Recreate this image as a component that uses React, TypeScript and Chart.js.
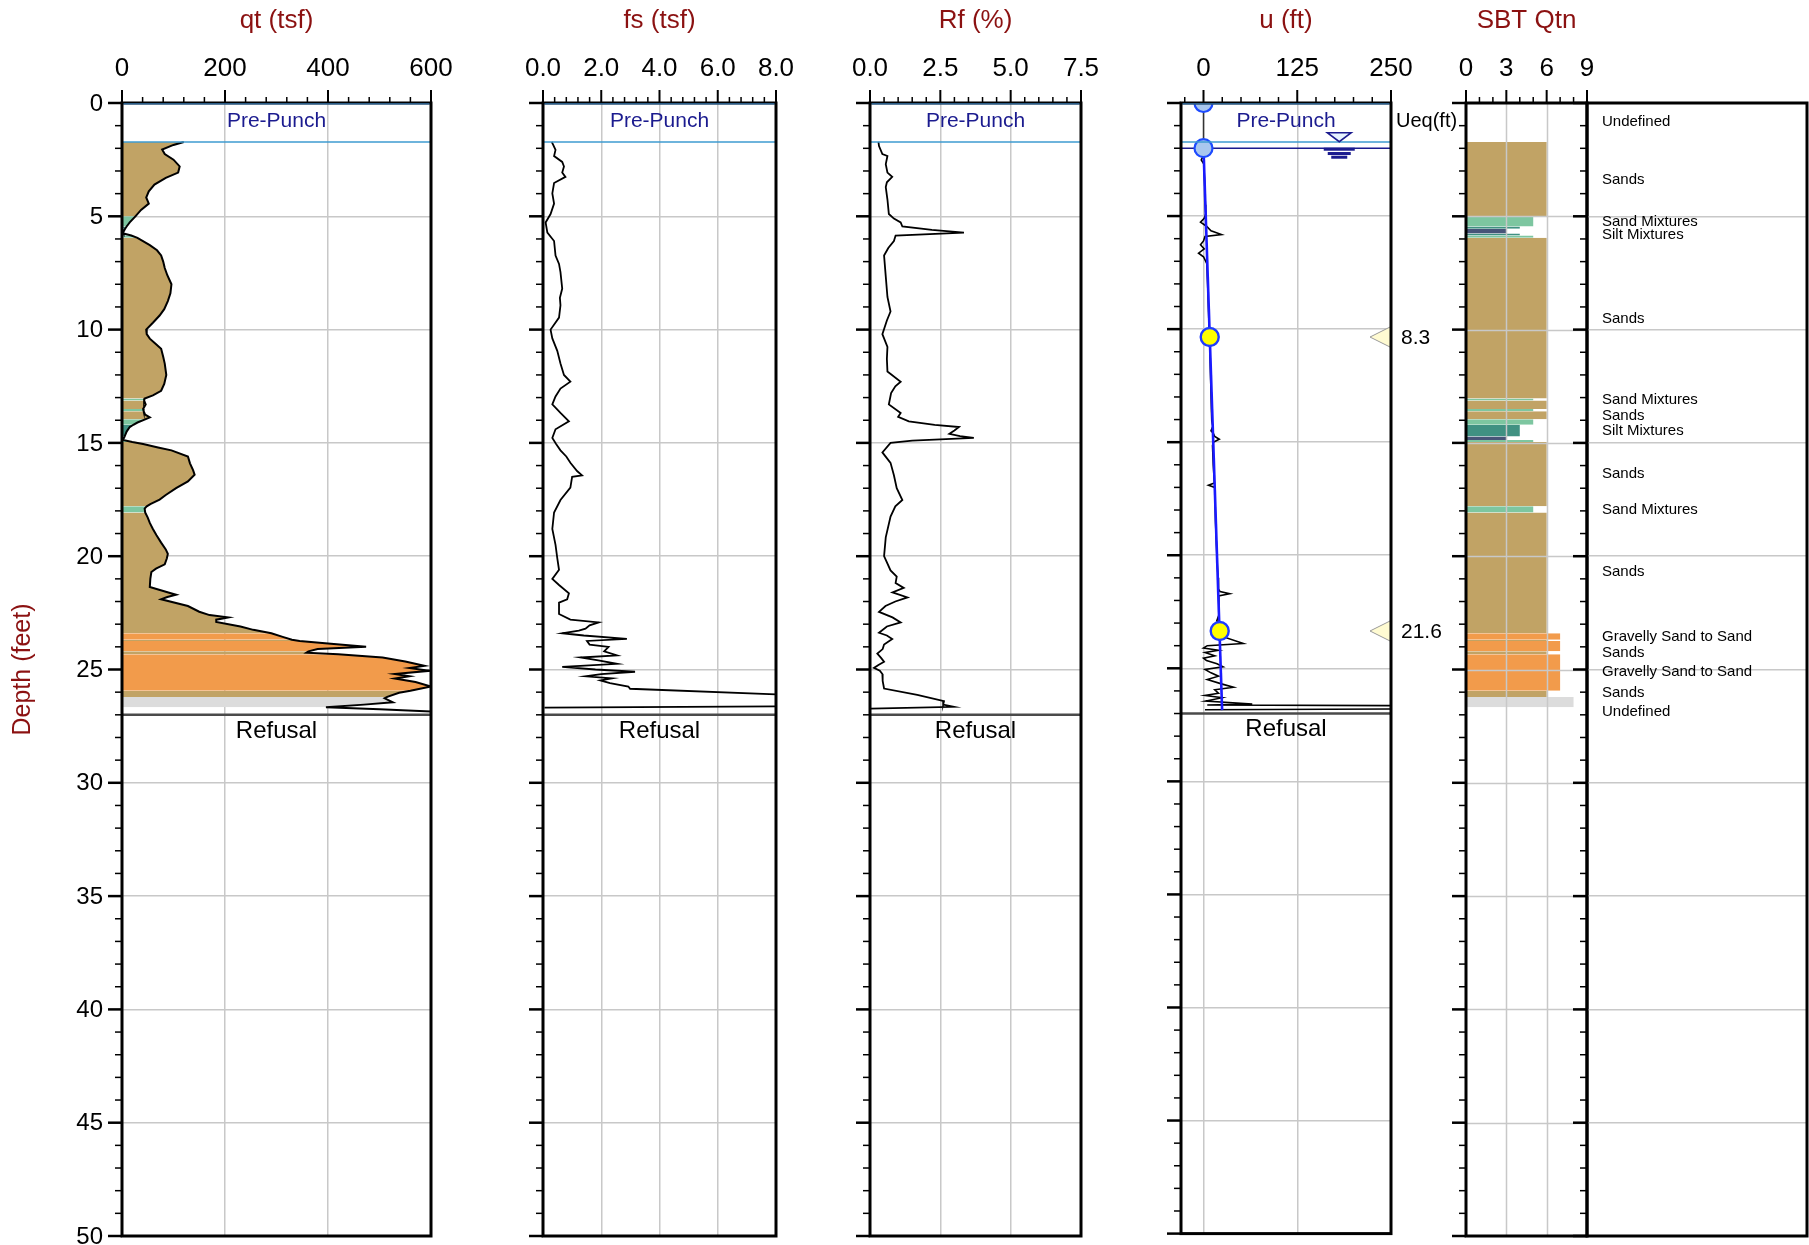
import React, { useEffect, useRef } from "react";
import { Chart, registerables } from "chart.js";

Chart.register(...registerables);

// ======================= DATA =======================
const depthTicks = [0, 5, 10, 15, 20, 25, 30, 35, 40, 45, 50];
const depthTickLabels = ["0", "5", "10", "15", "20", "25", "30", "35", "40", "45", "50"];
const depthGridValues = [5, 10, 15, 20, 25, 30, 35, 40, 45];

const panelTitles = ["qt (tsf)", "fs (tsf)", "Rf (%)", "u (ft)", "SBT Qtn"];

const qtAxisTicks = [0, 200, 400, 600];
const qtAxisLabels = ["0", "200", "400", "600"];
const fsAxisTicks = [0, 2, 4, 6, 8];
const fsAxisLabels = ["0.0", "2.0", "4.0", "6.0", "8.0"];
const rfAxisTicks = [0, 2.5, 5, 7.5];
const rfAxisLabels = ["0.0", "2.5", "5.0", "7.5"];
const uAxisTicks = [0, 125, 250];
const uAxisLabels = ["0", "125", "250"];
const sbtAxisTicks = [0, 3, 6, 9];
const sbtAxisLabels = ["0", "3", "6", "9"];

const prePunchDepth = 1.72;
const refusalDepth = 27.0;
const waterTableDepth = 2.0;
const waterSymbolU = 181;

// cone resistance qt (tsf)
const qtDepth = [1.72, 1.85, 2.05, 2.25, 2.5, 2.8, 3.07, 3.3, 3.6, 3.9,
  4.17, 4.44, 4.72, 5.0, 5.27, 5.45, 5.55, 5.72, 5.76, 5.85,
  5.95, 6.27, 6.5, 6.73, 7.0, 7.28, 7.6, 8.0, 8.4, 8.74,
  9.1, 9.38, 9.7, 10.0, 10.2, 10.4, 10.6, 10.85, 11.2, 11.5,
  12.0, 12.4, 12.7, 12.9, 13.04, 13.13, 13.3, 13.5, 13.6, 13.75,
  13.87, 13.96, 14.1, 14.2, 14.3, 14.5, 14.72, 14.87, 14.96, 15.05,
  15.2, 15.33, 15.6, 15.9, 16.2, 16.4, 16.7, 17.0, 17.3, 17.5,
  17.7, 17.8, 17.9, 18.07, 18.3, 18.53, 18.8, 19.08, 19.4, 19.7,
  19.9, 20.1, 20.36, 20.55, 20.7, 21.0, 21.36, 21.6, 21.7, 21.8,
  21.9, 22.2, 22.45, 22.6, 22.7, 22.8, 22.9, 23.1, 23.25, 23.4,
  23.56, 23.69, 23.74, 23.85, 24.0, 24.1, 24.2, 24.26, 24.33, 24.47,
  24.65, 24.84, 24.93, 25.06, 25.2, 25.3, 25.4, 25.55, 25.75, 25.94,
  26.03, 26.21, 26.27, 26.45, 26.55, 26.67, 26.75, 26.85];
const qtValue = [120, 100, 78, 83, 100, 112, 109, 85, 63, 52,
  47, 52, 37, 26, 15, 9, 6, 2, 3, 18,
  30, 54, 68, 76, 80, 83, 88, 96, 94, 89,
  82, 73, 60, 47, 48, 54, 64, 76, 80, 83,
  86, 82, 76, 60, 44, 43, 46, 41, 42, 45,
  54, 45, 30, 22, 15, 9, 5, 2, 20, 41,
  70, 96, 128, 132, 138, 141, 128, 105, 85, 73,
  55, 48, 44, 45, 50, 54, 60, 67, 76, 85,
  89, 87, 83, 66, 57, 55, 54, 90, 105, 88,
  76, 128, 150, 170, 206, 183, 183, 230, 255, 290,
  312, 330, 345, 400, 474, 380, 362, 358, 420, 506,
  550, 587, 558, 597, 530, 558, 530, 570, 600, 560,
  538, 515, 510, 526, 470, 396, 500, 600];

// sleeve friction fs (tsf)
const fsDepth = [1.72, 1.85, 2.07, 2.34, 2.6, 2.8, 3.07, 3.26, 3.53, 3.99,
  4.44, 4.9, 5.27, 5.72, 6.09, 6.73, 7.1, 7.46, 8.19, 8.6,
  8.93, 9.47, 10.0, 10.39, 10.94, 11.5, 12.0, 12.3, 12.6, 12.95,
  13.3, 13.68, 14.05, 14.4, 14.78, 15.05, 15.33, 15.6, 15.88, 16.24,
  16.43, 16.5, 16.97, 17.52, 18.07, 18.8, 19.5, 20.08, 20.6, 21.0,
  21.27, 21.64, 21.9, 22.05, 22.2, 22.55, 22.8, 22.92, 23.05, 23.2,
  23.28, 23.4, 23.5, 23.65, 23.74, 23.9, 24.0, 24.2, 24.38, 24.47,
  24.6, 24.75, 24.88, 25.0, 25.1, 25.2, 25.3, 25.39, 25.48, 25.6,
  25.75, 25.85, 26.15, 26.62, 26.68];
const fsValue = [0.3, 0.35, 0.43, 0.38, 0.66, 0.72, 0.66, 0.77, 0.38, 0.32,
  0.38, 0.26, 0.09, 0.15, 0.38, 0.43, 0.55, 0.6, 0.66, 0.58,
  0.6, 0.55, 0.26, 0.32, 0.49, 0.6, 0.72, 0.94, 0.6, 0.43,
  0.32, 0.6, 0.89, 0.43, 0.32, 0.45, 0.6, 0.8, 0.94, 1.17,
  1.34, 1.0, 0.94, 0.6, 0.38, 0.32, 0.43, 0.49, 0.55, 0.32,
  0.55, 0.89, 0.83, 0.55, 0.55, 0.55, 0.94, 1.91, 1.6, 1.46,
  1.23, 0.66, 1.4, 2.88, 1.51, 1.6, 2.25, 2.1, 2.54, 1.29,
  1.9, 2.54, 0.66, 1.8, 3.16, 2.0, 1.46, 2.37, 1.97, 2.3,
  2.93, 2.99, 9.0, 9.0, 0.05];

// friction ratio Rf (%)
const rfDepth = [1.72, 1.9, 2.25, 2.34, 2.7, 3.07, 3.26, 3.5, 3.71, 4.26,
  4.9, 5.1, 5.27, 5.45, 5.6, 5.72, 5.85, 6.09, 6.4, 6.73,
  7.65, 8.56, 9.2, 9.6, 10.2, 10.76, 11.3, 11.85, 12.3, 12.5,
  12.8, 13.3, 13.68, 13.85, 14.05, 14.2, 14.3, 14.45, 14.6, 14.7,
  14.78, 14.9, 15.0, 15.42, 15.88, 16.43, 17.0, 17.52, 17.8, 18.25,
  19.17, 20.0, 20.63, 20.9, 21.18, 21.4, 21.6, 21.82, 22.0, 22.2,
  22.46, 22.7, 22.92, 23.1, 23.38, 23.5, 23.65, 23.9, 24.1, 24.3,
  24.5, 24.66, 24.8, 24.93, 25.05, 25.2, 25.5, 25.84, 26.12, 26.4,
  26.55, 26.65, 26.73];
const rfValue = [0.3, 0.32, 0.44, 0.62, 0.56, 0.62, 0.79, 0.6, 0.56, 0.62,
  0.67, 0.85, 1.09, 1.15, 2.2, 3.34, 0.91, 0.85, 0.65, 0.5,
  0.56, 0.62, 0.73, 0.6, 0.44, 0.62, 0.6, 0.62, 1.09, 0.9,
  0.75, 0.67, 1.09, 1.0, 1.38, 2.3, 3.16, 3.0, 2.82, 3.2,
  3.69, 1.5, 0.73, 0.44, 0.73, 0.85, 0.95, 1.15, 0.9, 0.73,
  0.56, 0.5, 0.73, 0.95, 0.91, 1.2, 0.8, 1.33, 0.9, 0.55,
  0.32, 0.8, 1.09, 0.6, 0.32, 0.6, 0.79, 0.5, 0.45, 0.26,
  0.4, 0.5, 0.3, 0.14, 0.35, 0.44, 0.45, 0.5, 1.68, 2.63,
  2.6, 2.98, 0.02];

// pore pressure u (ft)
const uDepth = [2.3, 2.45, 2.52, 2.7, 3.5, 4.5, 4.9, 5.1, 5.27, 5.45,
  5.65, 5.82, 5.9, 6.1, 6.27, 6.45, 6.64, 6.8, 7.1, 8.0,
  9.0, 10.0, 11.0, 12.2, 13.5, 14.05, 14.3, 14.5, 14.6, 14.75,
  14.87, 15.0, 15.15, 16.0, 16.8, 16.9, 17.0, 18.5, 19.9, 20.5,
  21.0, 21.5, 21.6, 21.7, 21.8, 22.3, 22.6, 22.9, 23.1, 23.2,
  23.4, 23.6, 23.9, 24.0, 24.1, 24.2, 24.3, 24.45, 24.55, 24.66,
  24.8, 24.93, 25.05, 25.2, 25.35, 25.5, 25.7, 25.84, 25.95, 26.1,
  26.2, 26.3, 26.45, 26.58, 26.62, 26.65, 26.8, 26.83];
const uValue = [0.5, -2, -3, 0.5, 1.5, 2.5, 3, 1, -4, 4,
  10, 24, 2, 0, -4, 1, -6.6, 0, 4.4, 5.5,
  6.5, 7.5, 8.5, 9.5, 10.5, 11, 12.5, 10, 13, 15,
  21, 13, 12, 13, 14.5, 6.6, 15, 16, 17.7, 18.5,
  19.5, 20, 22, 35, 20, 20.5, 21, 17.7, 23, 13,
  23, 26, 53, 5, 0, 20, 2, 15, 0, 4,
  18, 26, 2, 10, 20, 5, 25, 40, 15, 20,
  2, 25, 3, 65, 5, 260, 260, 2];

// hydrostatic line
const hydroDepth = [2.0, 26.85];
const hydroU = [0, 24.85];
// water level markers (pre-drill)
const wlDepth = [0, 2.0];
const wlU = [0, 0];
// dissipation tests / Ueq
const dissDepth = [10.35, 23.35];
const dissU = [8.3, 21.6];
const ueqLabels = ["8.3", "21.6"];

// SBT Qtn layers
const layerTop = [1.72, 5.0, 5.45, 5.55, 5.76, 5.85, 5.95, 13.04, 13.13, 13.5, 13.6, 13.96, 14.2, 14.72, 14.87, 14.96, 17.8, 18.07, 23.4, 23.69, 23.74, 24.2, 24.33, 25.94, 26.21];
const layerBottom = [5.0, 5.45, 5.55, 5.76, 5.85, 5.95, 13.04, 13.13, 13.5, 13.6, 13.96, 14.2, 14.72, 14.87, 14.96, 17.8, 18.07, 23.4, 23.69, 23.74, 24.2, 24.33, 25.94, 26.21, 26.67];
const layerZone = ["Sands", "Sand Mixtures", "Silt Mixtures", "Clays", "Silt Mixtures", "Sand Mixtures", "Sands", "Sand Mixtures", "Sands", "Sand Mixtures", "Sands", "Sand Mixtures", "Silt Mixtures", "Clays", "Sand Mixtures", "Sands", "Sand Mixtures", "Sands", "Gravelly Sand to Sand", "Sands", "Gravelly Sand to Sand", "Sands", "Gravelly Sand to Sand", "Sands", "Undefined"];
const zoneNames = ["Clays", "Silt Mixtures", "Sand Mixtures", "Sands", "Gravelly Sand to Sand", "Undefined"];
const zoneSbtIndex = [3, 4, 5, 6, 7, 8];

// SBT labels
const sbtLabelDepth = [0.8, 3.33, 5.18, 5.78, 9.46, 13.07, 13.78, 14.41, 16.33, 17.9, 20.66, 23.5, 24.2, 25.08, 26.0, 26.82];
const sbtLabelText = ["Undefined", "Sands", "Sand Mixtures", "Silt Mixtures", "Sands", "Sand Mixtures", "Sands", "Silt Mixtures", "Sands", "Sand Mixtures", "Sands", "Gravelly Sand to Sand", "Sands", "Gravelly Sand to Sand", "Sands", "Undefined"];

// ======================= STYLE / LAYOUT =======================
const PAGE_W = 1809;
const PAGE_H = 1245;
const TOP_PX = 103;
const BOTTOM_PX = 1236;
const FONT = '"Liberation Sans", Arial, Helvetica, sans-serif';
const TITLE_COLOR = "#8B1111";
const GRID = "#C8C8C8";
const NAVY = "#1B1B8F";
const zoneColors = ["#485578", "#409182", "#7DC6A0", "#C1A365", "#F29B4B", "#DCDCDC"];

const zoneColor = (z: string) => zoneColors[zoneNames.indexOf(z)];
const zoneIdx = (z: string) => zoneSbtIndex[zoneNames.indexOf(z)];
const pts = (xs: number[], ys: number[]) => ys.map((d, i) => ({ x: xs[i], y: d }));

type Panel = {
  key: string;
  left: number;
  right: number;
  min: number;
  max: number;
  title?: string;
  axisTicks: number[];
  axisLabels: string[];
  minorStep: number;
  gridX: number[];
  gridOnTop?: boolean;
  depthLabels?: boolean;
  prePunch?: boolean;
  refusal?: boolean;
  datasets: any[];
  before?: (chart: any) => void;
  extra?: (chart: any) => void;
};

const lineDs = (data: any[], color: string, width: number, order: number, extra: any = {}) => ({
  data,
  borderColor: color,
  borderWidth: width,
  pointRadius: 0,
  fill: false,
  tension: 0,
  clip: 0,
  order,
  ...extra,
});

// qt fill per layer
const qtAll = pts(qtValue, qtDepth);
const qtFillDatasets = layerTop.map((top, i) => ({
  data: qtAll.filter((p) => p.y >= top - 1e-6 && p.y <= layerBottom[i] + 1e-6),
  fill: { value: 0 },
  backgroundColor: zoneColor(layerZone[i]),
  borderWidth: 0,
  borderColor: "rgba(0,0,0,0)",
  pointRadius: 0,
  tension: 0,
  clip: 0,
  order: 10,
}));

const sbtDatasets = layerTop.map((top, i) => ({
  data: [
    { x: zoneIdx(layerZone[i]), y: top },
    { x: zoneIdx(layerZone[i]), y: layerBottom[i] },
  ],
  fill: { value: 0 },
  backgroundColor: zoneColor(layerZone[i]),
  borderWidth: 0,
  borderColor: "rgba(0,0,0,0)",
  pointRadius: 0,
  tension: 0,
  clip: 0,
  order: 10,
}));

function hline(ctx: any, x1: number, x2: number, y: number) {
  ctx.beginPath();
  ctx.moveTo(x1, y);
  ctx.lineTo(x2, y);
  ctx.stroke();
}
function vline(ctx: any, x: number, y1: number, y2: number) {
  ctx.beginPath();
  ctx.moveTo(x, y1);
  ctx.lineTo(x, y2);
  ctx.stroke();
}

const PANELS: Panel[] = [
  {
    key: "qt", left: 122, right: 431, min: 0, max: 600, title: panelTitles[0],
    axisTicks: qtAxisTicks, axisLabels: qtAxisLabels, minorStep: 40, gridX: [200, 400],
    depthLabels: true, prePunch: true, refusal: true,
    datasets: [...qtFillDatasets, lineDs(qtAll, "#000", 2, 1)],
  },
  {
    key: "fs", left: 543, right: 776, min: 0, max: 8, title: panelTitles[1],
    axisTicks: fsAxisTicks, axisLabels: fsAxisLabels, minorStep: 0.4, gridX: [2, 4, 6],
    prePunch: true, refusal: true,
    datasets: [lineDs(pts(fsValue, fsDepth), "#000", 1.8, 1)],
  },
  {
    key: "rf", left: 870, right: 1081, min: 0, max: 7.5, title: panelTitles[2],
    axisTicks: rfAxisTicks, axisLabels: rfAxisLabels, minorStep: 0.5, gridX: [2.5, 5],
    prePunch: true, refusal: true,
    datasets: [lineDs(pts(rfValue, rfDepth), "#000", 1.8, 1)],
  },
  {
    key: "u", left: 1181, right: 1391, min: -30, max: 250, title: panelTitles[3],
    axisTicks: uAxisTicks, axisLabels: uAxisLabels, minorStep: 25, gridX: [0, 125],
    prePunch: true, refusal: true,
    datasets: [
      lineDs(pts(wlU, wlDepth), "#333", 1.5, 6),
      lineDs(pts(uValue, uDepth), "#000", 1.6, 5),
      lineDs(pts(hydroU, hydroDepth), "#1A1AFF", 2.6, 4),
      {
        data: pts(wlU, wlDepth), showLine: false, pointRadius: 9, pointBackgroundColor: "#A9C7EE",
        pointBorderColor: "#1E4BFF", pointBorderWidth: 2.2, clip: 0, order: 1,
      },
      {
        data: pts(dissU, dissDepth), showLine: false, pointRadius: 9, pointBackgroundColor: "#FFFF00",
        pointBorderColor: "#1E3CFF", pointBorderWidth: 2.4, clip: 0, order: 0,
      },
    ],
    before: (chart: any) => {
      const { ctx, chartArea: a } = chart;
      const y = chart.scales.y;
      ctx.strokeStyle = NAVY;
      ctx.lineWidth = 1.6;
      hline(ctx, a.left, a.right, y.getPixelForValue(waterTableDepth));
    },
    extra: (chart: any) => {
      const { ctx, chartArea: a } = chart;
      const x = chart.scales.x, y = chart.scales.y;
      // water table symbol
      const wy = y.getPixelForValue(waterTableDepth);
      const wx = x.getPixelForValue(waterSymbolU);
      ctx.beginPath();
      ctx.moveTo(wx - 12, wy - 15.5);
      ctx.lineTo(wx + 12, wy - 15.5);
      ctx.lineTo(wx, wy - 6.5);
      ctx.closePath();
      ctx.fillStyle = "#E6F3FF";
      ctx.fill();
      ctx.strokeStyle = NAVY;
      ctx.lineWidth = 1.5;
      ctx.stroke();
      ctx.fillStyle = NAVY;
      ctx.fillRect(wx - 15.5, wy - 0.5, 31, 3);
      ctx.fillRect(wx - 11.5, wy + 3.8, 23, 3);
      ctx.fillRect(wx - 8, wy + 7.5, 16, 3);
      // Ueq markers
      dissDepth.forEach((d, i) => {
        const py = y.getPixelForValue(d);
        ctx.beginPath();
        ctx.moveTo(a.right - 21, py);
        ctx.lineTo(a.right, py - 10.5);
        ctx.lineTo(a.right, py + 10.5);
        ctx.closePath();
        ctx.fillStyle = "#FFFBD2";
        ctx.fill();
        ctx.strokeStyle = "#999";
        ctx.lineWidth = 1;
        ctx.stroke();
        ctx.fillStyle = "#000";
        ctx.font = `21px ${FONT}`;
        ctx.textAlign = "left";
        ctx.textBaseline = "middle";
        ctx.fillText(ueqLabels[i], a.right + 10, py + 1);
      });
      ctx.font = `20px ${FONT}`;
      ctx.fillStyle = "#000";
      ctx.textAlign = "left";
      ctx.textBaseline = "middle";
      ctx.fillText("Ueq(ft)", a.right + 5, y.getPixelForValue(0.8));
    },
  },
  {
    key: "sbt", left: 1466, right: 1587, min: 0, max: 9, title: panelTitles[4],
    axisTicks: sbtAxisTicks, axisLabels: sbtAxisLabels, minorStep: 1, gridX: [3, 6],
    gridOnTop: true,
    datasets: sbtDatasets,
  },
  {
    key: "labels", left: 1587, right: 1807, min: 0, max: 1,
    axisTicks: [], axisLabels: [], minorStep: 0, gridX: [],
    datasets: [],
    extra: (chart: any) => {
      const { ctx, chartArea: a } = chart;
      const y = chart.scales.y;
      ctx.fillStyle = "#000";
      ctx.font = `15px ${FONT}`;
      ctx.textAlign = "left";
      ctx.textBaseline = "middle";
      sbtLabelDepth.forEach((d, i) => {
        ctx.fillText(sbtLabelText[i], a.left + 15, y.getPixelForValue(d) + 1);
      });
    },
  },
];

function decor(p: Panel) {
  return {
    id: "decor_" + p.key,
    beforeDatasetsDraw(chart: any) {
      if (!p.before) return;
      const { ctx } = chart;
      ctx.save();
      p.before(chart);
      ctx.restore();
    },
    afterDatasetsDraw(chart: any) {
      const { ctx, chartArea: a } = chart;
      const x = chart.scales.x, y = chart.scales.y;
      ctx.save();
      if (p.gridOnTop) {
        ctx.strokeStyle = GRID;
        ctx.lineWidth = 1.5;
        p.gridX.forEach((v) => vline(ctx, Math.round(x.getPixelForValue(v)) + 0.5, a.top, a.bottom));
        depthGridValues.forEach((d) => hline(ctx, a.left, a.right, Math.round(y.getPixelForValue(d)) + 0.5));
      }
      if (p.prePunch) {
        ctx.strokeStyle = "#3E9BD0";
        ctx.lineWidth = 1.5;
        hline(ctx, a.left, a.right, y.getPixelForValue(prePunchDepth));
      }
      if (p.refusal) {
        ctx.strokeStyle = "#4A4A4A";
        ctx.lineWidth = 2.5;
        hline(ctx, a.left, a.right, y.getPixelForValue(refusalDepth));
      }
      if (p.extra) p.extra(chart);
      ctx.restore();
    },
    afterDraw(chart: any) {
      const { ctx, chartArea: a } = chart;
      const x = chart.scales.x, y = chart.scales.y;
      ctx.save();
      ctx.strokeStyle = "#000";
      // left depth ticks (major every 5 ft, minor every 1 ft)
      for (let d = 0; d <= 50; d++) {
        const major = d % 5 === 0;
        ctx.lineWidth = major ? 2.5 : 1.5;
        const py = y.getPixelForValue(d);
        hline(ctx, a.left - (major ? 14 : 7), a.left, py);
      }
      // top axis ticks
      if (p.axisTicks.length) {
        ctx.lineWidth = 2;
        p.axisTicks.forEach((v) => vline(ctx, x.getPixelForValue(v), a.top - 13, a.top));
        ctx.lineWidth = 1.5;
        const k0 = Math.ceil(p.min / p.minorStep - 1e-9);
        const k1 = Math.floor(p.max / p.minorStep + 1e-9);
        for (let k = k0; k <= k1; k++) {
          const v = k * p.minorStep;
          if (p.axisTicks.some((t) => Math.abs(t - v) < 1e-6)) continue;
          vline(ctx, x.getPixelForValue(v), a.top - 6, a.top);
        }
        ctx.fillStyle = "#000";
        ctx.font = `26px ${FONT}`;
        ctx.textAlign = "center";
        ctx.textBaseline = "middle";
        p.axisTicks.forEach((v, i) => ctx.fillText(p.axisLabels[i], x.getPixelForValue(v), 69));
      }
      // borders
      ctx.strokeStyle = "#000";
      ctx.lineWidth = 3;
      ctx.strokeRect(a.left, a.top, a.right - a.left, a.bottom - a.top);
      if (p.prePunch) {
        ctx.strokeStyle = "#3A7DB5";
        ctx.lineWidth = 1.2;
        hline(ctx, a.left + 1.5, a.right - 1.5, a.top + 0.8);
      }
      // title
      if (p.title) {
        ctx.fillStyle = TITLE_COLOR;
        ctx.font = `26px ${FONT}`;
        ctx.textAlign = "center";
        ctx.textBaseline = "middle";
        ctx.fillText(p.title, (a.left + a.right) / 2, 21);
      }
      // depth labels
      if (p.depthLabels) {
        ctx.fillStyle = "#000";
        ctx.font = `24px ${FONT}`;
        ctx.textAlign = "right";
        ctx.textBaseline = "middle";
        depthTicks.forEach((d, i) => ctx.fillText(depthTickLabels[i], a.left - 19, y.getPixelForValue(d) + 1));
        ctx.save();
        ctx.translate(23, (a.top + a.bottom) / 2);
        ctx.rotate(-Math.PI / 2);
        ctx.fillStyle = TITLE_COLOR;
        ctx.font = `25px ${FONT}`;
        ctx.textAlign = "center";
        ctx.textBaseline = "middle";
        ctx.fillText("Depth (feet)", 0, 0);
        ctx.restore();
      }
      if (p.prePunch) {
        ctx.fillStyle = NAVY;
        ctx.font = `21px ${FONT}`;
        ctx.textAlign = "center";
        ctx.textBaseline = "middle";
        ctx.fillText("Pre-Punch", (a.left + a.right) / 2, y.getPixelForValue(0.82));
      }
      if (p.refusal) {
        ctx.fillStyle = "#000";
        ctx.font = `24px ${FONT}`;
        ctx.textAlign = "center";
        ctx.textBaseline = "middle";
        ctx.fillText("Refusal", (a.left + a.right) / 2, y.getPixelForValue(27.72));
      }
      ctx.restore();
    },
  };
}

function makeChart(canvas: HTMLCanvasElement, p: Panel) {
  return new Chart(canvas, {
    type: "line",
    data: { datasets: p.datasets },
    options: {
      responsive: false,
      animation: false,
      events: [],
      indexAxis: "y",
      layout: { padding: { left: p.left, right: PAGE_W - p.right, top: TOP_PX, bottom: PAGE_H - BOTTOM_PX } },
      plugins: { legend: { display: false }, tooltip: { enabled: false } },
      scales: {
        x: {
          type: "linear",
          position: "top",
          min: p.min,
          max: p.max,
          afterFit: (s: any) => { s.height = 0; },
          afterBuildTicks: (s: any) => { s.ticks = p.gridX.map((v) => ({ value: v })); },
          ticks: { display: false },
          grid: { display: !p.gridOnTop, color: GRID, lineWidth: 1.5, drawTicks: false },
          border: { display: false },
        },
        y: {
          type: "linear",
          position: "left",
          reverse: true,
          min: 0,
          max: 50,
          afterFit: (s: any) => { s.width = 0; },
          afterBuildTicks: (s: any) => { s.ticks = depthGridValues.map((v) => ({ value: v })); },
          ticks: { display: false },
          grid: { display: !p.gridOnTop, color: GRID, lineWidth: 1.5, drawTicks: false },
          border: { display: false },
        },
      },
    } as any,
    plugins: [decor(p)],
  });
}

export default function App() {
  const refs = useRef<(HTMLCanvasElement | null)[]>([]);
  useEffect(() => {
    const charts = PANELS.map((p, i) => makeChart(refs.current[i] as HTMLCanvasElement, p));
    return () => charts.forEach((c) => c.destroy());
  }, []);
  return (
    <div style={{ position: "absolute", left: 0, top: 0, width: PAGE_W, height: PAGE_H, background: "#fff", overflow: "hidden" }}>
      {PANELS.map((p, i) => (
        <canvas
          key={p.key}
          ref={(el) => { refs.current[i] = el; }}
          width={PAGE_W}
          height={PAGE_H}
          style={{ position: "absolute", left: 0, top: 0, width: PAGE_W, height: PAGE_H }}
        />
      ))}
    </div>
  );
}
